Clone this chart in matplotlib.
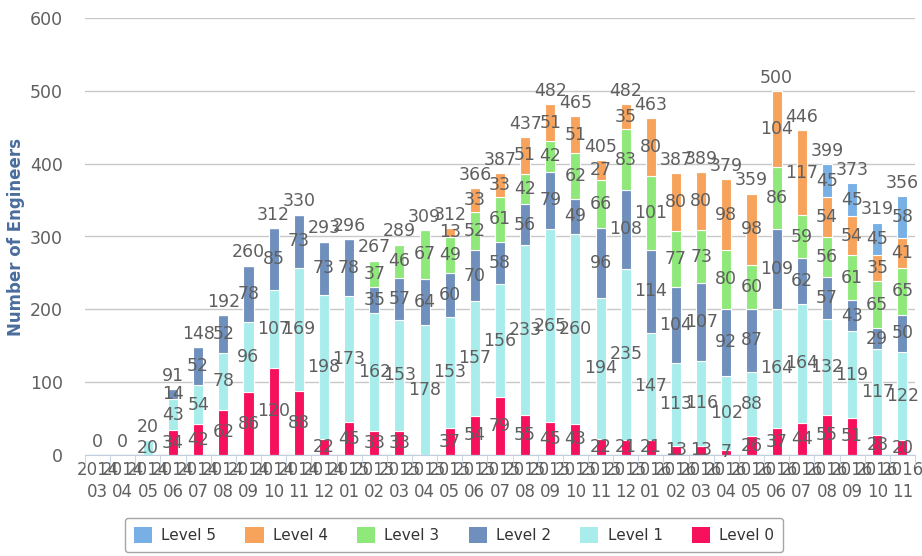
import matplotlib.pyplot as plt
import numpy as np

months = ["2014-03", "2014-04", "2014-05", "2014-06", "2014-07", "2014-08", "2014-09",
          "2014-10", "2014-11", "2014-12", "2015-01", "2015-02", "2015-03", "2015-04",
          "2015-05", "2015-06", "2015-07", "2015-08", "2015-09", "2015-10", "2015-11",
          "2015-12", "2016-01", "2016-02", "2016-03", "2016-04", "2016-05", "2016-06",
          "2016-07", "2016-08", "2016-09", "2016-10", "2016-11"]

level0 = [0, 0, 0, 34, 42, 62, 86, 120, 88, 22, 45, 33, 33, 0, 37, 54, 79, 55, 45, 43, 22,
          21, 21, 13, 13, 7, 26, 37, 44, 55, 51, 28, 20]
level1 = [0, 0, 20, 43, 54, 78, 96, 107, 169, 198, 173, 162, 153, 178, 153, 157, 156, 233,
          265, 260, 194, 235, 147, 113, 116, 102, 88, 164, 164, 132, 119, 117, 122]
level2 = [0, 0, 0, 14, 52, 52, 78, 85, 73, 73, 78, 35, 57, 64, 60, 70, 58, 56, 79, 49, 96,
          108, 114, 104, 107, 92, 87, 109, 62, 57, 43, 29, 50]
level3 = [0, 0, 0, 0, 0, 0, 0, 0, 0, 0, 0, 37, 46, 67, 49, 52, 61, 42, 42, 62, 66, 83, 101,
          77, 73, 80, 60, 86, 59, 56, 61, 65, 65]
level4 = [0, 0, 0, 0, 0, 0, 0, 0, 0, 0, 0, 0, 0, 0, 13, 33, 33, 51, 51, 51, 27, 35, 80, 80,
          80, 98, 98, 104, 117, 54, 54, 35, 41]
level5 = [0] * 29 + [45, 45, 45, 58]

series = [("Level 0", level0, "#f7105c"),
          ("Level 1", level1, "#a8ecec"),
          ("Level 2", level2, "#6f90bd"),
          ("Level 3", level3, "#8fe87a"),
          ("Level 4", level4, "#f7a35c"),
          ("Level 5", level5, "#78b0e6")]

label_col = "#5f5f5f"

fig = plt.figure(figsize=(9.22, 5.56), dpi=100)
ax = fig.add_axes([85 / 922, 1 - 455 / 556, 830 / 922, 437 / 556])

x = np.arange(len(months))
bottom = np.zeros(len(months))
handles = {}
for name, vals, col in series:
    vals = np.array(vals, dtype=float)
    bars = ax.bar(x, vals, 0.4, bottom=bottom, color=col, edgecolor="white",
                  linewidth=0.8, zorder=2)
    handles[name] = bars
    for xi, b, v in zip(x, bottom, vals):
        if v > 0:
            ax.text(xi, b + v / 2, f"{int(v)}", ha="center", va="center",
                    fontsize=12.5, color=label_col, zorder=4)
    bottom += vals

# totals above each column
for xi, t in zip(x, bottom):
    ax.annotate(f"{int(t)}", (xi, t), xytext=(0, 3), textcoords="offset points",
                ha="center", va="bottom", fontsize=12.5, color=label_col, zorder=4)

ax.set_xlim(-0.5, len(months) - 0.5)
ax.set_ylim(0, 600)
ax.set_yticks(range(0, 601, 100))
ax.yaxis.grid(True, color="#c8c8c8", linewidth=1, zorder=0)
ax.set_axisbelow(True)
for s in ["top", "right", "left"]:
    ax.spines[s].set_visible(False)
ax.spines["bottom"].set_color("#c0d0e0")
ax.tick_params(axis="y", length=0, labelsize=12.5, labelcolor="#606060", pad=16)

ax.set_xticks(x)
ax.set_xticklabels([m.replace("-", "\n") for m in months], fontsize=12,
                   color="#606060", linespacing=1.3)
ax.set_xticks(np.arange(-0.5, len(months)), minor=True)
ax.tick_params(axis="x", which="major", length=0, pad=4)
ax.tick_params(axis="x", which="minor", length=8, color="#c0d0e0")

fig.text(16 / 922, 1 - 237 / 556, "Number of Engineers", rotation=90, ha="center",
         va="center", fontsize=12, fontweight="bold", color="#4a6d9c")

order = ["Level 5", "Level 4", "Level 3", "Level 2", "Level 1", "Level 0"]
leg = fig.legend([handles[n] for n in order], order, loc="upper center",
                 bbox_to_anchor=(454 / 922, 1 - 518 / 556), ncol=6, fontsize=11,
                 frameon=True, fancybox=True, edgecolor="#909090",
                 handlelength=1.2, handleheight=1.2, columnspacing=1.9,
                 handletextpad=0.6, borderpad=0.6, borderaxespad=0)
leg.get_frame().set_linewidth(1)
for h in leg.legend_handles:
    h.set_edgecolor("none")
for t in leg.get_texts():
    t.set_color("#333333")

fig.savefig("out.png", dpi=100)
